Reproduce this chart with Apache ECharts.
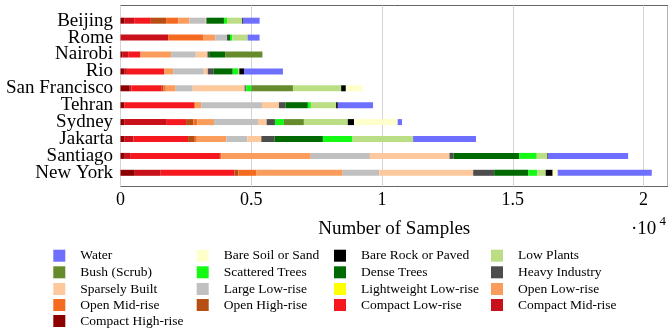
<!DOCTYPE html>
<html>
<head>
<meta charset="utf-8">
<script src="https://cdn.jsdelivr.net/npm/echarts@6/dist/echarts.min.js"></script>
<style>html,body{margin:0;padding:0;background:#fff}#c{width:668px;height:330px}</style>
</head>
<body>
<div id="c"></div>
<script>
const cities = ['Beijing','Rome','Nairobi','Rio','San Francisco','Tehran','Sydney','Jakarta','Santiago','New York'];
const xTicks = [0, 5000, 10000, 15000, 20000];

// Samples per LCZ class, in city order
const compactHighRise   = [141, 0, 65, 141, 355, 141, 141, 141, 164, 546];
const compactMidRise    = [382, 1821, 229, 103, 65, 0, 1630, 355, 202, 992];
const compactLowRise    = [637, 0, 470, 1424, 1157, 2672, 737, 2088, 3435, 2825];
const openHighRise      = [584, 0, 0, 0, 65, 0, 279, 256, 0, 141];
const openMidRise       = [470, 1336, 0, 0, 88, 38, 153, 76, 50, 699];
const openLowRise       = [420, 470, 1172, 344, 382, 240, 637, 1134, 3424, 3294];
const lightweightLowRise= [0, 0, 0, 0, 0, 0, 0, 0, 0, 0];
const largeLowRise      = [622, 447, 943, 1172, 649, 2317, 1679, 802, 2263, 1401];
const sparselyBuilt     = [20, 0, 447, 153, 1985, 649, 332, 534, 3042, 3588];
const heavyIndustry     = [20, 38, 65, 229, 38, 256, 317, 508, 153, 802];
const denseTrees        = [660, 76, 611, 725, 27, 851, 0, 1844, 2508, 1309];
const scatteredTrees    = [115, 88, 0, 202, 191, 115, 344, 1134, 676, 344];
const bushScrub         = [0, 0, 1424, 0, 1592, 0, 763, 0, 0, 0];
const lowPlants         = [584, 584, 0, 50, 1844, 966, 1679, 2317, 408, 317];
const bareRock          = [27, 0, 0, 179, 179, 65, 240, 0, 20, 267];
const bareSoil          = [0, 0, 0, 0, 649, 0, 1668, 0, 0, 191];
const water             = [637, 458, 0, 1489, 0, 1347, 164, 2405, 3065, 3599];

const classes = [
  ['Compact High-rise', compactHighRise, '#8c0000'],
  ['Compact Mid-rise', compactMidRise, '#c9111b'],
  ['Compact Low-rise', compactLowRise, '#f5181f'],
  ['Open High-rise', openHighRise, '#b54f14'],
  ['Open Mid-rise', openMidRise, '#f56a21'],
  ['Open Low-rise', openLowRise, '#f99c5c'],
  ['Lightweight Low-rise', lightweightLowRise, '#ffff00'],
  ['Large Low-rise', largeLowRise, '#c0c0c0'],
  ['Sparsely Built', sparselyBuilt, '#fdc99c'],
  ['Heavy Industry', heavyIndustry, '#4d4d4d'],
  ['Dense Trees', denseTrees, '#006a00'],
  ['Scattered Trees', scatteredTrees, '#14fa14'],
  ['Bush (Scrub)', bushScrub, '#668b2c'],
  ['Low Plants', lowPlants, '#bbde84'],
  ['Bare Rock or Paved', bareRock, '#000000'],
  ['Bare Soil or Sand', bareSoil, '#ffffcc'],
  ['Water', water, '#6f6fff']
];

// legend layout: 4 columns, filled row by row
const legendOrder = ['Water','Bare Soil or Sand','Bare Rock or Paved','Low Plants',
  'Bush (Scrub)','Scattered Trees','Dense Trees','Heavy Industry',
  'Sparsely Built','Large Low-rise','Lightweight Low-rise','Open Low-rise',
  'Open Mid-rise','Open High-rise','Compact Low-rise','Compact Mid-rise',
  'Compact High-rise'];
const legendLeft = [53.3, 196.7, 334, 491];
const legendRowTop = [248.7, 265.3, 282, 298, 314];

const FONT = 'Liberation Serif';
const XMAX = 20935;

const chart = echarts.init(document.getElementById('c'), null, {renderer:'canvas'});
chart.setOption({
  animation: false,
  backgroundColor: '#fff',
  grid: [
    {left: 120.5, top: 5.5, width: 548.5, height: 181, show: true, borderColor: '#666', borderWidth: 1, backgroundColor: 'transparent'},
    {left: 120.5, top: 12.25, width: 548.5, height: 169}
  ],
  xAxis: [
    {type: 'value', gridIndex: 0, min: 0, max: XMAX, interval: 5000,
     axisLine: {show: false}, axisTick: {show: false},
     splitLine: {show: true, lineStyle: {color: '#d4d4d4', width: 1}},
     axisLabel: {show: true, showMaxLabel: false, margin: 5, color: '#000', fontFamily: FONT, fontSize: 18,
                 formatter: v => xTicks.indexOf(v) >= 0 ? String(v / 10000) : ''},
     name: 'Number of Samples', nameLocation: 'middle', nameGap: 33,
     nameTextStyle: {color: '#000', fontFamily: FONT, fontSize: 19}},
    {type: 'value', gridIndex: 1, min: 0, max: XMAX, show: false}
  ],
  yAxis: [
    {type: 'value', gridIndex: 0, show: false, min: 0, max: 1},
    {type: 'category', gridIndex: 1, data: cities, inverse: true,
     axisLine: {show: false}, axisTick: {show: false}, splitLine: {show: false},
     axisLabel: {interval: 0, margin: 7.4, color: '#000', fontFamily: FONT, fontSize: 19}}
  ],
  legend: legendOrder.map((name, i) => ({
    data: [name], left: legendLeft[i % 4], top: legendRowTop[Math.floor(i / 4)], padding: 0,
    itemWidth: 12, itemHeight: 12, icon: 'rect', selectedMode: false,
    textStyle: {color: '#000', fontFamily: FONT, fontSize: 13.5, padding: [0, 0, 0, 10]}
  })),
  graphic: [
    {type: 'text', left: 631, top: 220, style: {text: '·10', fill: '#000', font: '19px "Liberation Serif"'}},
    {type: 'text', left: 659.5, top: 215, style: {text: '4', fill: '#000', font: '13px "Liberation Serif"'}}
  ],
  series: classes.map(([name, vals, color]) => ({
    name, type: 'bar', stack: 'total', xAxisIndex: 1, yAxisIndex: 1,
    barWidth: 6, data: vals, itemStyle: {color}, emphasis: {disabled: true}
  }))
});
</script>
</body>
</html>
